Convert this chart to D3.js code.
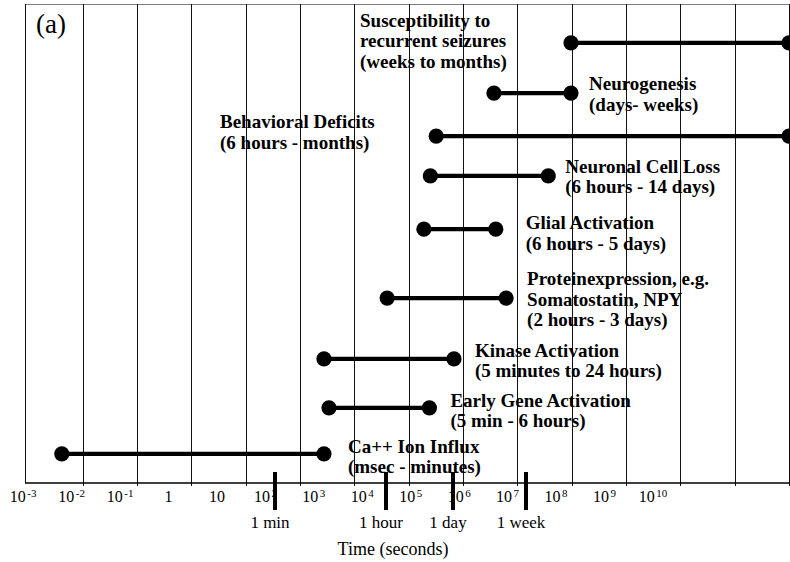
<!DOCTYPE html>
<html>
<head>
<meta charset="utf-8">
<script src="https://cdn.jsdelivr.net/npm/d3@7"></script>
<style>
  html, body { margin: 0; padding: 0; background: #fff; }
  svg { display: block; }
  text { font-family: "Liberation Serif", "Times New Roman", Times, serif; fill: #000; }
</style>
</head>
<body>
<div id="chart"></div>
<script>
// ---------------- data ----------------
const rowNames = ["Seizure susceptibility", "Neurogenesis", "Behavioral deficits",
  "Neuronal cell loss", "Glial activation", "Protein expression",
  "Kinase activation", "Early gene activation", "Ca++ ion influx"];
const labelLines = [
  ["Susceptibility to", "recurrent seizures", "(weeks to months)"],
  ["Neurogenesis", "(days- weeks)"],
  ["Behavioral Deficits", "(6 hours - months)"],
  ["Neuronal Cell Loss", "(6 hours - 14 days)"],
  ["Glial Activation", "(6 hours - 5 days)"],
  ["Proteinexpression, e.g.", "Somatostatin, NPY", "(2 hours - 3 days)"],
  ["Kinase Activation", "(5 minutes to 24 hours)"],
  ["Early Gene Activation", "(5 min - 6 hours)"],
  ["Ca++ Ion Influx", "(msec - minutes)"]
];
// start / end of each process, seconds
const startSec = [9.7e6, 3.7e5, 3.2e4, 2.5e4, 1.9e4, 4.0e3, 275, 340, 0.0041];
const endSec   = [1e11, 9.7e6, 1e11, 3.7e6, 4.0e5, 6.2e5, 6.8e4, 2.4e4, 275];
// vertical lane of each row (arbitrary units, 0 = axis, 10 = top)
const lane = [9.19, 8.14, 7.24, 6.41, 5.30, 3.86, 2.59, 1.57, 0.61];

// time reference markers
const markerLabels = ["1 min", "1 hour", "1 day", "1 week"];
const markerSec = [34.5, 3810, 65300, 1.44e6];

// axis tick labels (powers of ten)
const tickExponents = [-3, -2, -1, 0, 1, 2, 3, 4, 5, 6, 7, 8, 9, 10];
const gridExponents = [-2, -1, 0, 1, 2, 3, 4, 5, 6, 7, 8, 9, 10, 11];

const axisTitle = "Time (seconds)";
const panelLabel = "(a)";

// ---------------- layout ----------------
const W = 790, H = 562;
const frameLeft = 25, frameTop = 4, axisY = 483;
// label placement: offset from end point of the bar (dx), and from lane (dy, first baseline)
const labelLayout = [
  { dx: -429, dy: -16 }, { dx: 18, dy: -3 }, { dx: -569, dy: -8 },
  { dx: 17, dy: -3 }, { dx: 30, dy: 0 }, { dx: 21, dy: -13 },
  { dx: 21, dy: -2 }, { dx: 21, dy: -1 }, { dx: 24, dy: -1 }
];
const lineGap = 20.5;

const x = d3.scaleLog().domain([1e-3, 1e11]).range([28.5, 789]);
const y = d3.scaleLinear().domain([0, 10]).range([axisY, frameTop]);
const tickLabelScale = d3.scaleLog().domain([1e-3, 1e10]).range([22.7, 652.4]);

const svg = d3.select("#chart").append("svg").attr("width", W).attr("height", H);
const crisp = v => Math.round(v) + 0.5;

// frame + grid
svg.append("line").attr("x1", frameLeft).attr("x2", W).attr("y1", frameTop + 0.5).attr("y2", frameTop + 0.5)
  .attr("stroke", "#808080").attr("stroke-width", 1);
svg.append("line").attr("x1", frameLeft + 0.5).attr("x2", frameLeft + 0.5).attr("y1", frameTop).attr("y2", axisY)
  .attr("stroke", "#111").attr("stroke-width", 1);
svg.append("g").selectAll("line").data(gridExponents).join("line")
  .attr("x1", e => crisp(x(Math.pow(10, e)))).attr("x2", e => crisp(x(Math.pow(10, e))))
  .attr("y1", frameTop).attr("y2", axisY + 3)
  .attr("stroke", "#111").attr("stroke-width", 1);
svg.append("line").attr("x1", frameLeft).attr("x2", W).attr("y1", axisY).attr("y2", axisY)
  .attr("stroke", "#000").attr("stroke-width", 1.6);

// tick labels
const ax = svg.append("g").attr("transform", `translate(0,${axisY})`)
  .call(d3.axisBottom(tickLabelScale).tickValues(tickExponents.map(e => Math.pow(10, e)))
    .tickSize(0).tickFormat(""));
ax.select(".domain").remove();
ax.attr("font-family", null).attr("font-size", null);
ax.selectAll(".tick text").each(function (d, i) {
  const e = tickExponents[i];
  const t = d3.select(this).attr("y", 19).attr("dy", null)
    .style("font-size", "16px").attr("text-anchor", "middle");
  t.text(null);
  if (e === 0) { t.append("tspan").text("1"); return; }
  t.append("tspan").text("10");
  if (e !== 1) {
    t.append("tspan").attr("dx", 1.5).attr("dy", -5).style("font-size", "11px").text(String(e));
  }
});

// bars
const rows = svg.append("g");
rowNames.forEach((name, i) => {
  const g = rows.append("g").attr("class", "row");
  const yy = y(lane[i]);
  g.append("line").attr("x1", x(startSec[i])).attr("x2", x(endSec[i]))
    .attr("y1", yy).attr("y2", yy).attr("stroke", "#000").attr("stroke-width", 4.2);
  g.selectAll("circle").data([startSec[i], endSec[i]]).join("circle")
    .attr("cx", d => x(d)).attr("cy", yy).attr("r", 7.6).attr("fill", "#000");
  const lx = x(endSec[i]) + labelLayout[i].dx;
  const ly = yy + labelLayout[i].dy;
  const t = g.append("text").attr("x", lx).attr("y", ly)
    .style("font-size", "19px").style("font-weight", "bold");
  labelLines[i].forEach((s, k) => {
    t.append("tspan").attr("x", lx).attr("y", ly + k * lineGap).text(s);
  });
});

// time markers
const mk = svg.append("g");
mk.selectAll("line").data(markerSec).join("line")
  .attr("x1", d => x(d)).attr("x2", d => x(d))
  .attr("y1", 472).attr("y2", 510).attr("stroke", "#000").attr("stroke-width", 4);
mk.selectAll("text").data(markerLabels).join("text")
  .attr("x", (d, i) => x(markerSec[i]) - 5).attr("y", 528)
  .attr("text-anchor", "middle").style("font-size", "17px").text(d => d);

// axis title
svg.append("text").attr("x", 393).attr("y", 555).attr("text-anchor", "middle")
  .style("font-size", "18px").text(axisTitle);

// panel label
svg.append("text").attr("x", 36).attr("y", 33).style("font-size", "27px").text(panelLabel);
</script>
</body>
</html>
